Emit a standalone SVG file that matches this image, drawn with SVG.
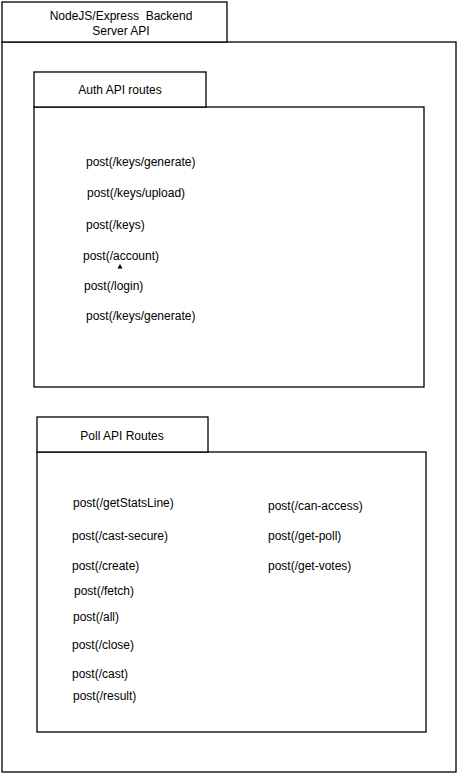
<svg xmlns="http://www.w3.org/2000/svg" width="460" height="775" viewBox="0 0 460 775">
<style>
.box{fill:#fff;stroke:#000;stroke-width:1.3}
text{font-family:"Liberation Sans",Arial,sans-serif;font-size:12px;fill:#000}
.c{text-anchor:middle}
</style>
<rect width="460" height="775" fill="#fff"/>
<g id="server">
<rect class="box" x="2" y="42" width="454" height="730"/>
<rect class="box" x="2" y="2" width="225" height="40"/>
<text class="c" x="121" y="20" xml:space="preserve">NodeJS/Express  Backend</text>
<text class="c" x="121" y="35">Server API</text>
</g>
<g id="auth">
<rect class="box" x="34" y="107" width="390" height="280"/>
<rect class="box" x="34" y="72" width="172" height="35"/>
<text class="c" x="120" y="94">Auth API routes</text>
<text x="86" y="166">post(/keys/generate)</text>
<text x="87" y="197">post(/keys/upload)</text>
<text x="86" y="229">post(/keys)</text>
<text x="83" y="260">post(/account)</text>
<text x="84" y="290">post(/login)</text>
<text x="86" y="320">post(/keys/generate)</text>
</g>
<g id="poll">
<rect class="box" x="37" y="452" width="389" height="280"/>
<rect class="box" x="37" y="417" width="171" height="35"/>
<text class="c" x="122" y="440">Poll API Routes</text>
<text x="73" y="507">post(/getStatsLine)</text>
<text x="72" y="540">post(/cast-secure)</text>
<text x="72" y="570">post(/create)</text>
<text x="74" y="595">post(/fetch)</text>
<text x="73" y="621">post(/all)</text>
<text x="72" y="649">post(/close)</text>
<text x="72" y="678">post(/cast)</text>
<text x="73" y="700">post(/result)</text>
<text x="268" y="510">post(/can-access)</text>
<text x="268" y="540">post(/get-poll)</text>
<text x="268" y="570">post(/get-votes)</text>
</g>
<g id="connectors">
<polygon points="120,264 122.5,268.5 117.5,268.5" fill="#000"/>
</g>
</svg>
